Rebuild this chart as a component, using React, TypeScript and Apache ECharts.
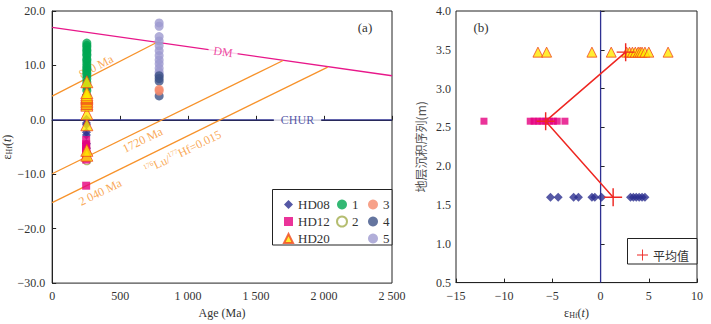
import React, { useEffect, useRef } from "react";
import * as echarts from "echarts";

// ---------- Panel (a): εHf(t) vs. age ----------
const AGE_MIN = 0;
const AGE_MAX = 2500;
const AGE_STEP = 500;
const EHF_MIN = -30;
const EHF_MAX = 20;
const EHF_STEP = 10;

const YOUNG_AGE = 255; // HD samples and groups 1-2
const OLD_AGE = 787; // groups 3-5

const HD08_EHF = [-5.2, -4.4, -2.8, -2.3, -0.9, -0.6, 0.1, 3.1, 3.4, 3.7, 4.0, 4.3, 4.6];
const HD12_EHF = [-12.1, -7.3, -6.9, -6.5, -6.1, -5.7, -5.3, -4.9, -4.5, -3.7];
const HD20_EHF = [-6.5, -5.6, -0.9, 1.1, 2.7, 3.0, 3.3, 3.6, 3.9, 4.1, 4.3, 4.6, 5.0, 7.0];
const G1_EHF = [14.1, 13.7, 13.4, 12.9, 12.6, 12.1, 11.8, 11.2, 10.9, 10.4, 9.9, 9.5, 9.1, 8.6, 8.2, 7.6, 6.9, 6.1, 5.4, 4.4, 3.5, 2.4];
const G2_EHF = [-6.2, -7.5];
const G3_EHF = [5.6, 5.3];
const G4_EHF = [8.1, 7.6, 7.1, 4.4];
const G5_EHF = [17.8, 17.2, 15.3, 14.5, 13.6, 12.7, 11.8, 11.0, 10.3, 9.5, 8.8, 8.3];

// reference evolution lines [age, εHf]
const DM_LINE = [[0, 17.0], [2500, 8.1]];
const CHUR_LINE = [[0, 0], [2500, 0]];
const L820_LINE = [[0, 4.36], [772, 14.25]];
const L1720_LINE = [[0, -9.9], [1699, 10.9]];
const L2040_LINE = [[0, -15.2], [2027, 9.7]];

// ---------- Panel (b): εHf(t) vs. stratigraphic height ----------
const B_X_MIN = -15;
const B_X_MAX = 10;
const B_X_STEP = 5;
const B_Y_MIN = 0.5;
const B_Y_MAX = 4.0;
const B_Y_STEP = 0.5;
const HEIGHT_HD08 = 1.6;
const HEIGHT_HD12 = 2.58;
const HEIGHT_HD20 = 3.47;
const MEAN_EHF = [2.6, -5.7, 1.3]; // HD20, HD12, HD08
const MEAN_HEIGHT = [HEIGHT_HD20, HEIGHT_HD12, HEIGHT_HD08];

// ---------- styles ----------
const SERIF = "'Liberation Serif', 'DejaVu Serif', 'Times New Roman', serif";
const CJK = "'Noto Sans CJK SC', sans-serif";
const C_HD08 = "#2b2e8f";
const C_HD12 = "#e5007f";
const C_HD20_FILL = "#ffe800";
const C_HD20_EDGE = "#f0461e";
const C_G1 = "#00a651";
const C_G2 = "#a3ad4c";
const C_G3 = "#f58a6b";
const C_G4 = "#3d5287";
const C_G5 = "#9d9ad0";
const C_DM = "#e8178a";
const C_CHUR = "#2e3192";
const C_ORANGE = "#f7922a";
const C_MEAN = "#ee2722";
const AXIS = "#222";
const TXT = "#333";

const CROSS = "path://M9.2,0h1.6v9.2h9.2v1.6h-9.2v9.2h-1.6v-9.2h-9.2v-1.6h9.2z";

const minus = (s: string) => s.replace("-", "\u2212");

function App() {
  const ref = useRef<HTMLDivElement>(null);

  useEffect(() => {
    document.body.style.margin = "0";
    if (!ref.current) return;
    const chart = echarts.init(ref.current, null, { renderer: "svg" });

    const pts = (age: number, arr: number[]) => arr.map((v) => [age, v]);
    const ptsB = (arr: number[], h: number) => arr.map((v) => [v, h]);

    const refLine = (name: string, data: number[][], color: string, width = 1.3) => ({
      name,
      type: "line",
      xAxisIndex: 0,
      yAxisIndex: 0,
      data,
      symbol: "none",
      silent: true,
      lineStyle: { color, width },
      z: 1,
    });

    const labelItem = (
      value: number[],
      text: string,
      rotate: number,
      color: string,
      bg = false,
      pad: number[] = [0, 0]
    ) => ({
      value,
      label: {
        show: true,
        position: "inside",
        formatter: text,
        rotate,
        color,
        fontSize: 12,
        fontFamily: SERIF,
        backgroundColor: bg ? "#fff" : "transparent",
        padding: pad,
        rich: {
          s: { fontSize: 7, verticalAlign: "top", color, fontFamily: SERIF, padding: [0, 0, 6, 0] },
          n: { fontSize: 12, color, fontFamily: SERIF },
        },
      },
    });

    const scatterA = (
      name: string,
      data: number[][],
      symbol: string,
      size: number,
      itemStyle: any,
      z: number
    ) => ({
      name,
      type: "scatter",
      xAxisIndex: 0,
      yAxisIndex: 0,
      data,
      symbol,
      symbolSize: size,
      itemStyle,
      z,
    });
    const scatterB = (name: string, data: number[][], symbol: string, size: number, itemStyle: any) => ({
      name,
      type: "scatter",
      xAxisIndex: 1,
      yAxisIndex: 1,
      data,
      symbol,
      symbolSize: size,
      itemStyle,
      z: 3,
    });

    const hd08Style = { color: C_HD08 };
    const hd12Style = { color: C_HD12 };
    const hd20Style = { color: C_HD20_FILL, borderColor: C_HD20_EDGE, borderWidth: 1 };

    const axisCommon = {
      axisLine: { show: true, lineStyle: { color: AXIS, width: 1 } },
      axisTick: { show: true, inside: true, length: 4, lineStyle: { color: AXIS } },
      splitLine: { show: false },
    };

    const epsRich = {
      e: { fontSize: 12, fontFamily: SERIF, color: TXT },
      i: { fontSize: 12, fontFamily: SERIF, fontStyle: "italic", color: TXT },
      s: { fontSize: 8, fontFamily: SERIF, color: TXT, verticalAlign: "bottom", padding: [5, 0, 0, 0] },
    };

    const legendText = { fontFamily: SERIF, fontSize: 13, color: TXT };

    const option: any = {
      animation: false,
      textStyle: { fontFamily: SERIF },
      grid: [
        { left: 52, top: 11, width: 340, height: 274, show: true, borderColor: AXIS, borderWidth: 1 },
        { left: 456, top: 11, width: 241, height: 274, show: true, borderColor: AXIS, borderWidth: 1 },
      ],
      xAxis: [
        {
          gridIndex: 0,
          type: "value",
          min: AGE_MIN,
          max: AGE_MAX,
          interval: AGE_STEP,
          name: "Age (Ma)",
          nameLocation: "middle",
          nameGap: 21,
          nameTextStyle: { fontSize: 12, color: TXT, fontFamily: SERIF },
          ...axisCommon,
          axisLabel: {
            margin: 7,
            fontSize: 12,
            color: TXT,
            fontFamily: SERIF,
            formatter: (v: number) =>
              v >= 1000 ? `${Math.floor(v / 1000)} ${String(v % 1000).padStart(3, "0")}` : String(v),
          },
        },
        {
          gridIndex: 1,
          type: "value",
          min: B_X_MIN,
          max: B_X_MAX,
          interval: B_X_STEP,
          name: "{e|ε}{s|Hf}{e|(}{i|t}{e|)}",
          nameLocation: "middle",
          nameGap: 21,
          nameTextStyle: { color: TXT, fontFamily: SERIF, rich: epsRich },
          ...axisCommon,
          axisLabel: {
            margin: 7,
            fontSize: 12,
            color: TXT,
            fontFamily: SERIF,
            formatter: (v: number) => minus(String(v)),
          },
        },
      ],
      yAxis: [
        {
          gridIndex: 0,
          type: "value",
          min: EHF_MIN,
          max: EHF_MAX,
          interval: EHF_STEP,
          name: "{e|ε}{s|Hf}{e|(}{i|t}{e|)}",
          nameLocation: "middle",
          nameGap: 28,
          nameTextStyle: { color: TXT, fontFamily: SERIF, rich: epsRich },
          ...axisCommon,
          axisLabel: {
            margin: 7,
            fontSize: 12,
            color: TXT,
            fontFamily: SERIF,
            formatter: (v: number) => minus(v.toFixed(1)),
          },
        },
        {
          gridIndex: 1,
          type: "value",
          min: B_Y_MIN,
          max: B_Y_MAX,
          interval: B_Y_STEP,
          name: "地层沉积序列(m)",
          nameLocation: "middle",
          nameGap: 30,
          nameTextStyle: { fontSize: 12, color: "#555", fontFamily: CJK },
          ...axisCommon,
          axisLabel: {
            margin: 5,
            fontSize: 12,
            color: TXT,
            fontFamily: SERIF,
            formatter: (v: number) => v.toFixed(1),
          },
        },
      ],
      legend: [
        {
          orient: "vertical",
          left: 278,
          top: 193,
          itemWidth: 9,
          itemHeight: 9,
          itemGap: 4,
          textStyle: legendText,
          data: ["HD08", "HD12", "HD20"],
          selectedMode: false,
          z: 10,
        },
        {
          orient: "vertical",
          left: 331,
          top: 193,
          itemWidth: 10,
          itemHeight: 10,
          itemGap: 4,
          textStyle: legendText,
          data: ["1", "2"],
          selectedMode: false,
          z: 10,
        },
        {
          orient: "vertical",
          left: 363,
          top: 193,
          itemWidth: 10,
          itemHeight: 10,
          itemGap: 4,
          textStyle: legendText,
          data: ["3", "4", "5"],
          selectedMode: false,
          z: 10,
        },
        {
          orient: "vertical",
          left: 632,
          top: 244,
          itemWidth: 11,
          itemHeight: 11,
          textStyle: { fontFamily: CJK, fontSize: 12, color: TXT },
          data: [{ name: "平均值", icon: CROSS }],
          selectedMode: false,
          z: 10,
        },
      ],
      graphic: [
        {
          type: "rect",
          shape: { x: 272.5, y: 189.5, width: 119.5, height: 55.5 },
          style: { fill: "#fff", stroke: AXIS, lineWidth: 1 },
          z: 2,
          silent: true,
        },
        {
          type: "rect",
          shape: { x: 627.5, y: 238.5, width: 69.5, height: 25.5 },
          style: { fill: "#fff", stroke: AXIS, lineWidth: 1 },
          z: 2,
          silent: true,
        },
        {
          type: "text",
          x: 365,
          y: 27,
          style: { text: "(a)", fontSize: 13, fontFamily: SERIF, fill: TXT, align: "center", verticalAlign: "middle" },
          z: 6,
        },
        {
          type: "text",
          x: 481,
          y: 27,
          style: { text: "(b)", fontSize: 13, fontFamily: SERIF, fill: TXT, align: "center", verticalAlign: "middle" },
          z: 6,
        },
      ],
      series: [
        refLine("DM", DM_LINE, C_DM),
        refLine("CHUR", CHUR_LINE, C_CHUR),
        refLine("820", L820_LINE, C_ORANGE),
        refLine("1720", L1720_LINE, C_ORANGE),
        refLine("2040", L2040_LINE, C_ORANGE),
        {
          name: "labels",
          type: "scatter",
          xAxisIndex: 0,
          yAxisIndex: 0,
          symbolSize: 0,
          silent: true,
          z: 2,
          data: [
            labelItem([1257, 12.5], "DM", -8, C_DM, true, [0, 5]),
            labelItem([1805, 0], "CHUR", 0, C_CHUR, true, [0, 7]),
            labelItem([323, 9.8], "820 Ma", 27, C_ORANGE),
            labelItem([665, -3.7], "1720 Ma", 26, C_ORANGE),
            labelItem([353, -13.3], "2 040 Ma", 26, C_ORANGE),
            labelItem([960, -5.9], "{s|176}{n|Lu/}{s|177}{n|Hf=0.015}", 26, C_ORANGE),
          ],
        },
        scatterA("5", pts(OLD_AGE, G5_EHF), "circle", 9, { color: C_G5 }, 3),
        scatterA("4", pts(OLD_AGE, G4_EHF), "circle", 9, { color: C_G4 }, 3),
        scatterA("3", pts(OLD_AGE, G3_EHF), "circle", 9, { color: C_G3 }, 3),
        scatterA("1", pts(YOUNG_AGE, G1_EHF), "circle", 9, { color: C_G1 }, 3),
        scatterA("2", pts(YOUNG_AGE, G2_EHF), "circle", 8, { color: "#fff", borderColor: C_G2, borderWidth: 1.3 }, 3),
        scatterA("HD08", pts(YOUNG_AGE - 3, HD08_EHF), "diamond", 9, hd08Style, 4),
        scatterA("HD12", pts(YOUNG_AGE - 5, HD12_EHF), "rect", 8, hd12Style, 4),
        scatterA("HD20", pts(YOUNG_AGE, HD20_EHF), "triangle", 12, hd20Style, 4),
        {
          name: "zero",
          type: "line",
          xAxisIndex: 1,
          yAxisIndex: 1,
          data: [[0, B_Y_MIN], [0, B_Y_MAX]],
          symbol: "none",
          silent: true,
          lineStyle: { color: C_CHUR, width: 1.3 },
          z: 1,
        },
        scatterB("HD20", ptsB(HD20_EHF, HEIGHT_HD20), "triangle", 10, hd20Style),
        scatterB("HD12", ptsB(HD12_EHF, HEIGHT_HD12), "rect", 7, hd12Style),
        scatterB("HD08", ptsB(HD08_EHF, HEIGHT_HD08), "diamond", 9, hd08Style),
        {
          name: "平均值",
          type: "line",
          xAxisIndex: 1,
          yAxisIndex: 1,
          data: MEAN_EHF.map((v, i) => [v, MEAN_HEIGHT[i]]),
          symbol: CROSS,
          symbolSize: 18,
          itemStyle: { color: C_MEAN },
          lineStyle: { color: C_MEAN, width: 1.5 },
          z: 5,
        },
      ],
    };

    chart.setOption(option);
    return () => chart.dispose();
  }, []);

  return <div ref={ref} style={{ width: 711, height: 324 }} />;
}

export default App;
